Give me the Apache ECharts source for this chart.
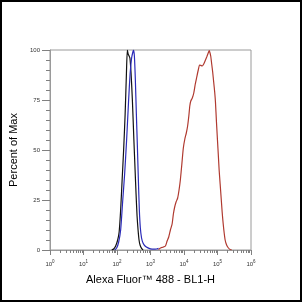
<!DOCTYPE html>
<html><head><meta charset="utf-8">
<script src="https://cdn.jsdelivr.net/npm/echarts@6/dist/echarts.min.js"></script>
<style>html,body{margin:0;padding:0;background:#fff}#c{width:302px;height:302px}</style>
</head><body><div id="c"></div>
<script>
// x values are log10 of fluorescence intensity (Alexa Fluor 488 - BL1-H)
const blackX = [1.842,1.901,1.960,2.020,2.064,2.109,2.153,2.198,2.243,2.281,2.308,2.332,2.385,2.421,2.459,2.504,2.540,2.569,2.599,2.629,2.658,2.688,2.733,2.777];
const blackY = [0,0.5,2,5,9,20,35,50,68,88,100,98,96,88,75,55,40,28,17,10,5,2.5,0.8,0];
const blueX = [1.931,1.990,2.050,2.109,2.168,2.228,2.287,2.347,2.391,2.436,2.474,2.495,2.519,2.548,2.578,2.608,2.638,2.667,2.697,2.733,2.777,2.837,2.911,3.000,3.089,3.178,3.238];
const blueY = [0,1,4,10,24,38,55,75,88,96,99,100,97,85,68,52,35,20,11,6,3.5,2,1.2,0.6,0.4,0.5,0.8];
const redX = [3.238,3.297,3.386,3.446,3.496,3.544,3.594,3.645,3.683,3.722,3.763,3.811,3.852,3.891,3.936,3.980,4.025,4.069,4.108,4.144,4.173,4.203,4.248,4.292,4.337,4.381,4.426,4.464,4.500,4.544,4.589,4.634,4.678,4.723,4.752,4.797,4.827,4.856,4.886,4.916,4.939,4.969,4.999,5.026,5.049,5.079,5.109,5.139,5.159,5.189,5.228,5.272,5.326,5.376,5.427];
const redY = [0.3,1,1.5,2,4.5,6.5,10,13,18,21.5,24,26,30,35,43,51,55.5,58.5,62,67,72,74.5,76,78.5,83,86.5,90,92.5,92.3,92,93,94.7,96.5,98.5,99.7,97,93,89,84,79,74,64,55,47,40,33,26,19,15,10,5,2.5,1,0.3,0];
const xTickExponents = [0,1,2,3,4,5,6];
const yTickLabels = [0,25,50,75,100];

const zip = (xs, ys) => xs.map((x, i) => [x, ys[i]]);
const minorLog = [];
for (let n = 0; n < 6; n++) for (let k = 2; k <= 9; k++) minorLog.push(n + Math.log10(k));
const yMinor = [];
for (let v = 0; v <= 100; v += 5) if (v % 25) yMinor.push(v);

const axisGray = '#808080';
const chart = echarts.init(document.getElementById('c'), null, {renderer: 'canvas'});
chart.setOption({
  animation: false,
  backgroundColor: '#fff',
  grid: {left: 49, top: 50, right: 51, bottom: 52, show: true, borderColor: '#9a9a9a', borderWidth: 1},
  graphic: [{type: 'rect', shape: {x: 1, y: 1, width: 300, height: 300}, style: {fill: 'none', stroke: '#000', lineWidth: 2}, z: 100}],
  xAxis: [{
    type: 'value', min: 0, max: 6, interval: 1,
    name: 'Alexa Fluor™ 488 - BL1-H', nameLocation: 'middle', nameGap: 24,
    nameTextStyle: {fontFamily: 'Liberation Sans', fontSize: 11, color: '#000'},
    axisLine: {show: true, lineStyle: {color: '#9a9a9a'}},
    axisTick: {show: true, length: 5, customValues: xTickExponents, lineStyle: {color: axisGray}},
    splitLine: {show: false},
    axisLabel: {
      margin: 9,
      customValues: xTickExponents,
      formatter: v => '{b|10}{e|' + v + '}',
      rich: {
        b: {fontSize: 6, color: '#333', fontFamily: 'Liberation Sans'},
        e: {fontSize: 4.5, color: '#333', fontFamily: 'Liberation Sans', padding: [0, 0, 5, 0]}
      }
    }
  }, {
    type: 'value', min: 0, max: 6, position: 'bottom', gridIndex: 0,
    axisLine: {show: false}, axisLabel: {show: false}, splitLine: {show: false},
    axisTick: {show: true, length: 3, customValues: minorLog, lineStyle: {color: axisGray}}
  }],
  yAxis: [{
    type: 'value', min: 0, max: 100, interval: 25,
    name: 'Percent of Max', nameLocation: 'middle', nameGap: 31,
    nameTextStyle: {fontFamily: 'Liberation Sans', fontSize: 11, color: '#000'},
    axisLine: {show: true, lineStyle: {color: '#9a9a9a'}},
    axisTick: {show: true, length: 8, customValues: yTickLabels, lineStyle: {color: axisGray}},
    splitLine: {show: false},
    axisLabel: {margin: 10, fontSize: 6, color: '#333', fontFamily: 'Liberation Sans',
      customValues: yTickLabels}
  }, {
    type: 'value', min: 0, max: 100, position: 'left', gridIndex: 0,
    axisLine: {show: false}, axisLabel: {show: false}, splitLine: {show: false},
    axisTick: {show: true, length: 4, customValues: yMinor, lineStyle: {color: axisGray}}
  }],
  series: [
    {name: 'black', type: 'line', data: zip(blackX, blackY), showSymbol: false, smooth: 0.2,
     lineStyle: {color: '#111', width: 1.2}, z: 3},
    {name: 'blue', type: 'line', data: zip(blueX, blueY), showSymbol: false, smooth: 0.2,
     lineStyle: {color: '#2a2ab8', width: 1.2}, z: 4},
    {name: 'red', type: 'line', data: zip(redX, redY), showSymbol: false, smooth: 0.2,
     lineStyle: {color: '#b03a30', width: 1.2}, z: 2}
  ]
});
</script></body></html>
